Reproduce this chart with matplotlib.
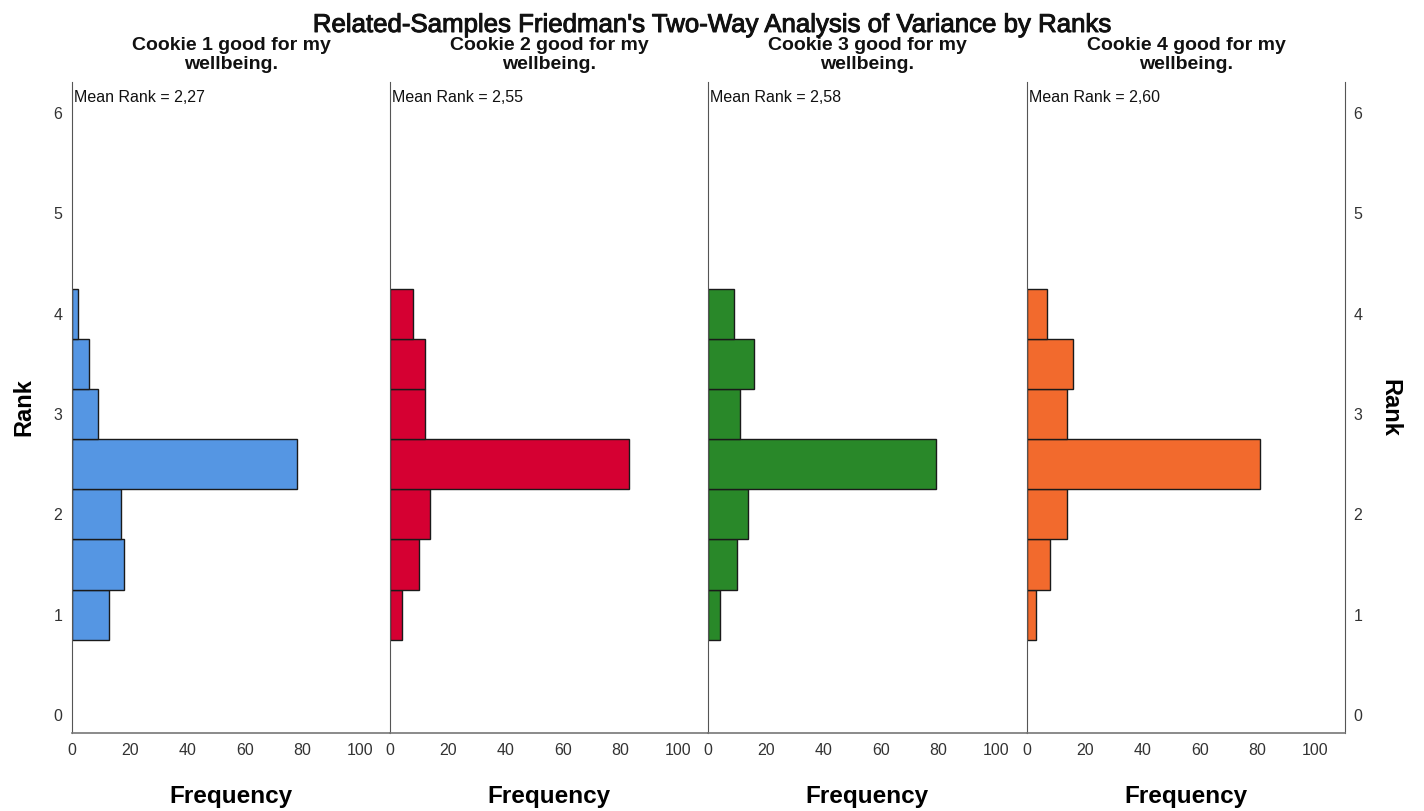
import matplotlib
matplotlib.use("Agg")
import matplotlib.pyplot as plt
import matplotlib.patheffects as pe

plt.rcParams['font.family'] = ['Liberation Sans', 'DejaVu Sans']

# Friedman rank histograms: rank bins (centres) and frequencies per item
rank_bins = [1.0, 1.5, 2.0, 2.5, 3.0, 3.5, 4.0]
cookie1 = [13, 18, 17, 78, 9, 6, 2]
cookie2 = [4, 10, 14, 83, 12, 12, 8]
cookie3 = [4, 10, 14, 79, 11, 16, 9]
cookie4 = [3, 8, 14, 81, 14, 16, 7]

items = ["Cookie 1 good for my\nwellbeing.", "Cookie 2 good for my\nwellbeing.",
         "Cookie 3 good for my\nwellbeing.", "Cookie 4 good for my\nwellbeing."]
mean_ranks = ["2,27", "2,55", "2,58", "2,60"]
series = [cookie1, cookie2, cookie3, cookie4]
colors = ["#5596E3", "#D50032", "#298829", "#F26A2D"]

x_ticks = [0, 20, 40, 60, 80, 100]
y_ticks = [0, 1, 2, 3, 4, 5, 6]

W, H = 1424, 811
fig = plt.figure(figsize=(W / 100, H / 100), dpi=100)

left_px = [72, 390, 708, 1027]
panel_w = 318
top_px, bottom_px = 82, 733
spine_col = "#555555"
tick_col = "#333333"

fig.text(713 / W, 1 - 25 / H, "Related-Samples Friedman's Two-Way Analysis of Variance by Ranks",
         ha="center", va="center", fontsize=18.6, color="#111111",
         path_effects=[pe.withStroke(linewidth=0.7, foreground="#111111")])

for i, (vals, col) in enumerate(zip(series, colors)):
    ax = fig.add_axes([left_px[i] / W, 1 - bottom_px / H, panel_w / W, (bottom_px - top_px) / H])
    ax.barh(rank_bins, vals, height=0.5, left=0, color=col, edgecolor="#1a1a1a", linewidth=1.0)
    ax.set_xlim(0, 110.4)
    ax.set_ylim(-0.18, 6.31)
    ax.set_xticks(x_ticks)
    ax.set_xticklabels([str(t) for t in x_ticks])
    ax.tick_params(axis="x", length=0, pad=7, labelsize=11.5, colors=tick_col)
    for s in ["top", "right"]:
        ax.spines[s].set_visible(False)
    ax.spines["left"].set_color(spine_col)
    ax.spines["bottom"].set_color("#777777")
    ax.spines["bottom"].set_linewidth(1.2)
    if i == 0:
        ax.set_yticks(y_ticks)
        ax.tick_params(axis="y", length=0, pad=7, labelsize=11.5, colors=tick_col)
        ax.set_ylabel("Rank", fontsize=17, fontweight="bold", labelpad=13)
    elif i == 3:
        ax.spines["right"].set_visible(True)
        ax.spines["right"].set_color(spine_col)
        ax.yaxis.tick_right()
        ax.set_yticks(y_ticks)
        ax.tick_params(axis="y", length=0, pad=6, labelsize=11.5, colors=tick_col)
        ax.yaxis.set_label_position("right")
        ax.set_ylabel("Rank", fontsize=17, fontweight="bold", rotation=270, labelpad=28)
    else:
        ax.set_yticks([])
    ax.set_xlabel("Frequency", fontsize=17.5, fontweight="bold", labelpad=20)
    ax.text(0.007, 1 - 15 / (bottom_px - top_px), "Mean Rank = " + mean_ranks[i],
            transform=ax.transAxes, ha="left", va="center", fontsize=11.5, color="#111111")
    cx = (left_px[i] + panel_w / 2) / W
    fig.text(cx, 1 - 55 / H, items[i], ha="center", va="center", fontsize=14,
             fontweight="bold", linespacing=1.12, color="#111111")

fig.savefig("out.png", dpi=100, facecolor="white")
